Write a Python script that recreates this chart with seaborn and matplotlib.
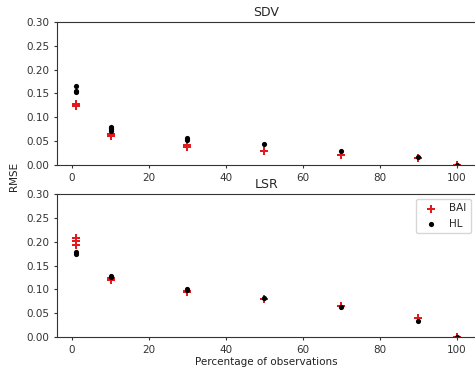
import matplotlib
matplotlib.use("Agg")
import matplotlib.pyplot as plt
import seaborn as sns
import pandas as pd

sns.set_style("ticks")
plt.rcParams['font.family'] = ['DejaVu Sans']

# Percentage of observations for each estimate
sdv_bai_x = [1, 1, 1, 10, 10, 10, 30, 30, 50, 70, 90, 100]
sdv_bai_y = [0.127, 0.125, 0.123, 0.064, 0.062, 0.060, 0.041, 0.038, 0.029, 0.021, 0.014, 0.001]
sdv_hl_x = [1, 1, 1, 10, 10, 10, 10, 30, 30, 50, 70, 90, 100]
sdv_hl_y = [0.166, 0.156, 0.154, 0.080, 0.077, 0.075, 0.072, 0.056, 0.052, 0.043, 0.029, 0.016, 0.000]

lsr_bai_x = [1, 1, 1, 10, 10, 30, 30, 50, 70, 90, 100]
lsr_bai_y = [0.207, 0.202, 0.193, 0.124, 0.120, 0.095, 0.097, 0.080, 0.065, 0.039, 0.001]
lsr_hl_x = [1, 1, 10, 10, 30, 30, 50, 70, 90, 100]
lsr_hl_y = [0.178, 0.174, 0.128, 0.125, 0.100, 0.098, 0.082, 0.062, 0.034, 0.000]

methods = ["BAI", "HL"]
titles = ["SDV", "LSR"]
yticks = [0.00, 0.05, 0.10, 0.15, 0.20, 0.25, 0.30]

def frame(bx, by, hx, hy):
    return pd.DataFrame({
        "x": bx + hx,
        "y": by + hy,
        "method": ["BAI"] * len(bx) + ["HL"] * len(hx),
    })

data = [frame(sdv_bai_x, sdv_bai_y, sdv_hl_x, sdv_hl_y),
        frame(lsr_bai_x, lsr_bai_y, lsr_hl_x, lsr_hl_y)]

fig = plt.figure(figsize=(4.75, 3.71), dpi=100)
ax1 = fig.add_axes([0.1196, 0.5553, 0.8825, 0.3854])
ax2 = fig.add_axes([0.1196, 0.0916, 0.8825, 0.3854])

palette = {"BAI": "#e31a1c", "HL": "black"}
markers = {"BAI": "P", "HL": "o"}
sizes = {"BAI": 30, "HL": 14}

for ax, df, title in zip([ax1, ax2], data, titles):
    for m in methods:
        sub = df[df["method"] == m]
        sns.scatterplot(data=sub, x="x", y="y", ax=ax, color=palette[m],
                        marker=markers[m], s=sizes[m], linewidth=0, label=m)
    ax.set_ylim(0, 0.30)
    ax.set_yticks(yticks)
    ax.set_xticks([0, 20, 40, 60, 80, 100])
    ax.set_title(title, fontsize=9, pad=4)
    ax.set_ylabel("")
    ax.set_xlabel("")
    ax.tick_params(labelsize=7.5, length=2.5, pad=3, colors="#333333")
    for sp in ax.spines.values():
        sp.set_color("#333333")
    ax.spines["right"].set_visible(False)

ax1.get_legend().remove()
ax2.legend(loc="upper right", fontsize=7.5, frameon=True)
ax2.set_xlabel("Percentage of observations", fontsize=7.5, labelpad=1.5, color="#222222")
fig.text(0.03, 0.525, "RMSE", rotation=90, va="center", ha="center", fontsize=7.5, color="#222222")

fig.savefig("out.png", dpi=100)
